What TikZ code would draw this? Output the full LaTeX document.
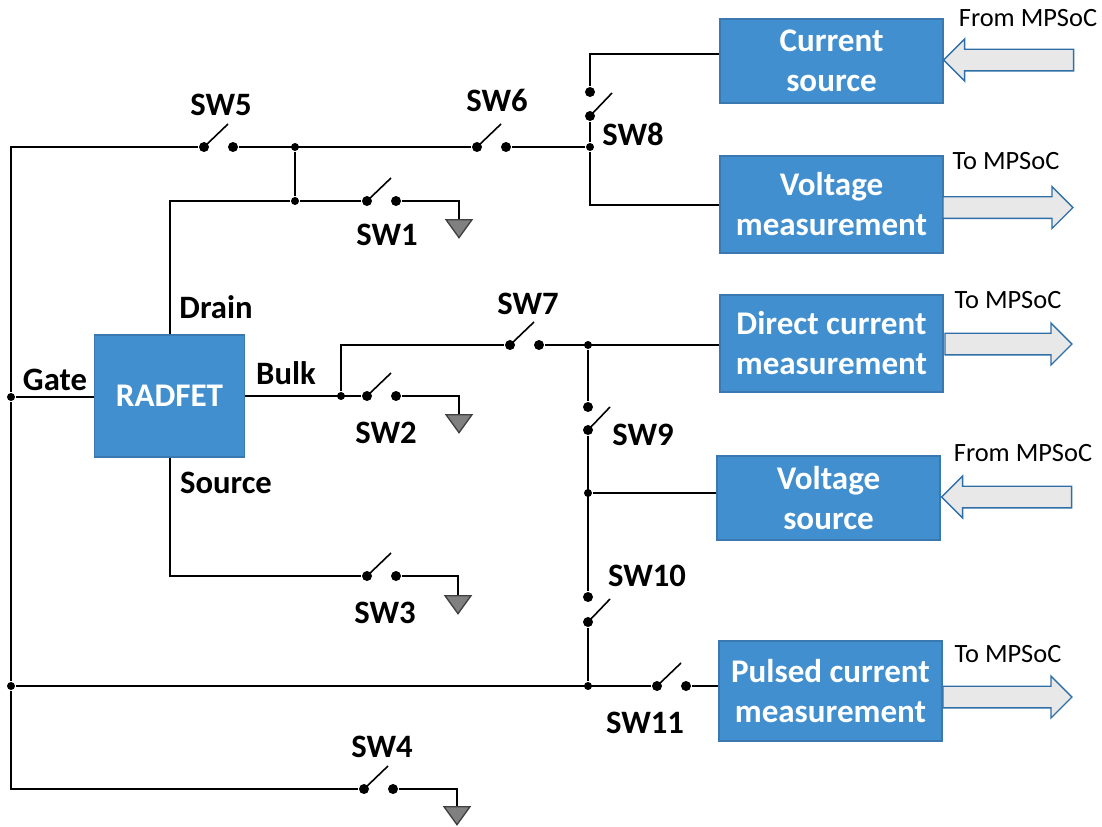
\documentclass[tikz,border=0pt]{standalone}
\usepackage{fontspec}
\setmainfont{Carlito}
\usetikzlibrary{shapes.geometric, shapes.arrows}

\begin{document}
\begin{tikzpicture}[x=0.75pt, y=-0.75pt, node distance=21.75pt, line width=1.5pt]
		\definecolor{boxblue}{HTML}{418FCF}
		\definecolor{boxedge}{HTML}{3A79B0}
		\definecolor{arrowedge}{HTML}{2F6FA8}
		\definecolor{arrowfill}{HTML}{E8E8E8}
		
		\tikzstyle{block} = [rectangle, minimum width=167.25pt, inner sep=0pt, align=center, draw=boxedge, fill=boxblue, line width=1pt, text=white, font=\fontsize{24.8}{30}\selectfont\bfseries]
		\tikzstyle{contact} = [circle, fill=black, inner sep=0pt, minimum size=7.5pt]
		\tikzstyle{junction} = [circle, fill=black, inner sep=0pt, minimum size=6pt]
		\tikzstyle{ground} = [isosceles triangle, isosceles triangle stretches=true, shape border rotate=-90, anchor=lower side, minimum width=19.5pt, minimum height=13.5pt, inner sep=0pt, draw=black!75, fill=black!50, line width=1pt]
		\tikzstyle{swlabel} = [inner sep=0pt, font=\fontsize{24.5}{30}\selectfont\bfseries]
		\tikzstyle{note} = [inner sep=0pt, font=\fontsize{19.8}{24}\selectfont]
		\tikzstyle{flow} = [single arrow, single arrow head extend=7.5pt, single arrow tip angle=90, single arrow head indent=0pt, minimum width=31.5pt, inner xsep=0pt, inner ysep=7.5pt, draw=arrowedge, fill=arrowfill, line width=1pt]
		\tikzstyle{wire} = [line width=1.5pt]
		\tikzstyle{blade} = [line width=1.2pt]
		
		\useasboundingbox (0,0) rectangle (1102,826);
		
		% Device and blocks
		\node (radfet) [block, minimum width=112.5pt, minimum height=91.5pt] at (169.5,396) {RADFET};
		\node (csrc) [block, minimum height=63pt] at (831.5,61) {Current\\source};
		\node (vmeas) [block, minimum height=72.75pt] at (831.5,204.5) {Voltage\\measurement};
		\node (dmeas) [block, minimum height=72.75pt] at (831.5,343.5) {Direct current\\measurement};
		\node (vsrc) [block, minimum height=63pt] at (828.5,498) {Voltage\\source};
		\node (pmeas) [block, minimum height=75pt] at (830.5,691) {Pulsed current\\measurement};
		
		% Arrows to and from the MPSoC
		\node (csrcflow) [flow, shape border rotate=180, minimum height=97.5pt] at (1014,60) {};
		\node (vmeasflow) [flow, minimum height=97.5pt] at (1002.5,207.5) {};
		\node (dmeasflow) [flow, minimum height=95.25pt] at (1003,344) {};
		\node (vsrcflow) [flow, shape border rotate=180, minimum height=97.5pt] at (1012,497) {};
		\node (pmeasflow) [flow, minimum height=96.75pt] at (1002,697) {};
		
		\node (csrcnote) [note] at (1028,18) {From MPSoC};
		\node (vmeasnote) [note] at (1006,161) {To MPSoC};
		\node (dmeasnote) [note] at (1008,300) {To MPSoC};
		\node (vsrcnote) [note] at (1023,453) {From MPSoC};
		\node (pmeasnote) [note] at (1008,654) {To MPSoC};
		
		% Switch contacts
		\node (sw1l) [contact] at (367,201) {};
		\node (sw1r) [contact, right of = sw1l] {};
		\node (sw2l) [contact] at (367,396) {};
		\node (sw2r) [contact, right of = sw2l] {};
		\node (sw3l) [contact] at (367,576) {};
		\node (sw3r) [contact, right of = sw3l] {};
		\node (sw4l) [contact] at (364,789) {};
		\node (sw4r) [contact, right of = sw4l] {};
		\node (sw5l) [contact] at (204,147) {};
		\node (sw5r) [contact, right of = sw5l] {};
		\node (sw6l) [contact] at (477,147) {};
		\node (sw6r) [contact, right of = sw6l] {};
		\node (sw7l) [contact] at (510,345) {};
		\node (sw7r) [contact, right of = sw7l] {};
		\node (sw8t) [contact] at (590,92) {};
		\node (sw8b) [contact, below of = sw8t, node distance=18pt] {};
		\node (sw9t) [contact] at (588,407) {};
		\node (sw9b) [contact, below of = sw9t, node distance=17.25pt] {};
		\node (sw10t) [contact] at (588,597) {};
		\node (sw10b) [contact, below of = sw10t, node distance=18.75pt] {};
		\node (sw11l) [contact] at (657,686) {};
		\node (sw11r) [contact, right of = sw11l] {};
		
		% Free ends of the blades
		\coordinate (sw1e) at ([shift={(24,-23)}]sw1l.center);
		\coordinate (sw2e) at ([shift={(24,-23)}]sw2l.center);
		\coordinate (sw3e) at ([shift={(24,-23)}]sw3l.center);
		\coordinate (sw4e) at ([shift={(24,-23)}]sw4l.center);
		\coordinate (sw5e) at ([shift={(24,-23)}]sw5l.center);
		\coordinate (sw6e) at ([shift={(24,-23)}]sw6l.center);
		\coordinate (sw7e) at ([shift={(24,-23)}]sw7l.center);
		\coordinate (sw8e) at ([shift={(22,-23)}]sw8b.center);
		\coordinate (sw9e) at ([shift={(22,-23)}]sw9b.center);
		\coordinate (sw10e) at ([shift={(22,-23)}]sw10b.center);
		\coordinate (sw11e) at ([shift={(24,-23)}]sw11l.center);
		
		% Switch names
		\node (sw1name) [swlabel] at (387,235) {SW1};
		\node (sw2name) [swlabel] at (386,433) {SW2};
		\node (sw3name) [swlabel] at (385,613) {SW3};
		\node (sw4name) [swlabel] at (382,747) {SW4};
		\node (sw5name) [swlabel] at (221,105) {SW5};
		\node (sw6name) [swlabel] at (497,100) {SW6};
		\node (sw7name) [swlabel] at (528,304) {SW7};
		\node (sw8name) [swlabel] at (633,134) {SW8};
		\node (sw9name) [swlabel] at (643,435) {SW9};
		\node (sw10name) [swlabel] at (647,576) {SW10};
		\node (sw11name) [swlabel] at (645,723) {SW11};
		
		% Terminal names
		\node (drain) [swlabel] at (216,307) {Drain};
		\node (bulk) [swlabel] at (286,373) {Bulk};
		\node (gate) [swlabel] at (55,380) {Gate};
		\node (source) [swlabel] at (226,483) {Source};
		
		% Junctions
		\node (j1) [junction] at (295,147) {};
		\node (j2) [junction] at (295,201) {};
		\node (j3) [junction] at (590,147) {};
		\node (j4) [junction] at (341,396) {};
		\node (j5) [junction] at (588,345) {};
		\node (j6) [junction] at (588,493) {};
		\node (j7) [junction] at (588,686) {};
		\node (j8) [junction] at (11,397) {};
		\node (j9) [junction] at (11,686) {};
		
		% Grounds
		\node (gnd1) [ground] at (459,219) {};
		\node (gnd2) [ground] at (459,414) {};
		\node (gnd3) [ground] at (458,595) {};
		\node (gnd4) [ground] at (457,806) {};
		
		% Wires
		\draw [wire] (sw5l) -| (j8);
		\draw [wire] (j8) -- (j9);
		\draw [wire] (j9) |- (sw4l);
		\draw [wire] (j8) -- (j8 -| radfet.west);
		\draw [wire] (sw5r) -- (sw6l);
		\draw [wire] (sw6r) -- (j3);
		\draw [wire] (j1) -- (j2);
		\draw [wire] (sw1l) -- (j2);
		\draw [wire] (j2) -| (radfet.north);
		\draw [wire] (sw8t) |- ([yshift=5.25pt]csrc.west);
		\draw [wire] (sw8b) -- (j3);
		\draw [wire] (j3) |- (vmeas.west);
		\draw [wire] (radfet.east) -- (sw2l);
		\draw [wire] (j4) |- (sw7l);
		\draw [wire] (sw7r) -- (sw7r -| dmeas.west);
		\draw [wire] (j5) -- (sw9t);
		\draw [wire] (sw9b) -- (sw10t);
		\draw [wire] (j6) -- (j6 -| vsrc.west);
		\draw [wire] (sw10b) -- (j7);
		\draw [wire] (j9) -- (sw11l);
		\draw [wire] (sw11r) -- (sw11r -| pmeas.west);
		\draw [wire] (radfet.south) |- (sw3l);
		\draw [wire] (sw1r) -| (gnd1.lower side);
		\draw [wire] (sw2r) -| (gnd2.lower side);
		\draw [wire] (sw3r) -| (gnd3.lower side);
		\draw [wire] (sw4r) -| (gnd4.lower side);
		
		% Blades
		\draw [blade] (sw1l.center) -- (sw1e);
		\draw [blade] (sw2l.center) -- (sw2e);
		\draw [blade] (sw3l.center) -- (sw3e);
		\draw [blade] (sw4l.center) -- (sw4e);
		\draw [blade] (sw5l.center) -- (sw5e);
		\draw [blade] (sw6l.center) -- (sw6e);
		\draw [blade] (sw7l.center) -- (sw7e);
		\draw [blade] (sw8b.center) -- (sw8e);
		\draw [blade] (sw9b.center) -- (sw9e);
		\draw [blade] (sw10b.center) -- (sw10e);
		\draw [blade] (sw11l.center) -- (sw11e);
		
\end{tikzpicture}
\end{document}
